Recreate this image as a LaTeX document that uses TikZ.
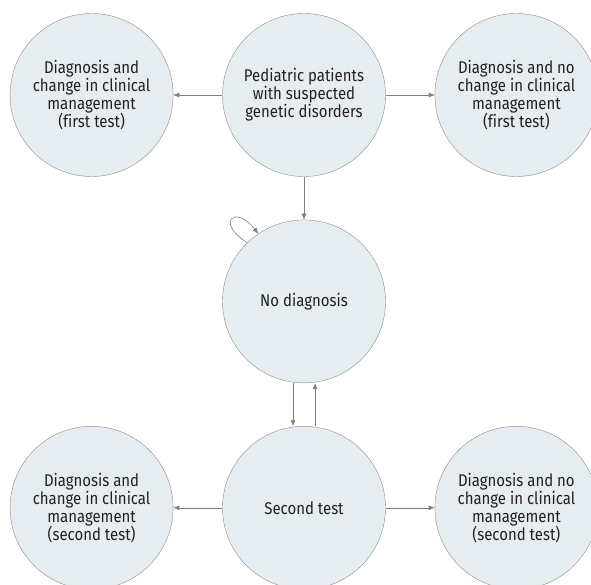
\documentclass[tikz,border=0pt]{standalone}
\usepackage{fontspec}
\setmainfont{Fira Sans}[FakeStretch=0.88, Ligatures=NoCommon]
\usetikzlibrary{positioning,arrows.meta}
\definecolor{stateFill}{HTML}{E6EDF1}
\definecolor{stateLine}{HTML}{8C8C8C}
\definecolor{arrGray}{HTML}{808080}
\definecolor{txtGray}{HTML}{231F20}

\begin{document}
\begin{tikzpicture}[
  x=1pt, y=-1pt,
  node distance=43pt and 49pt,
  state/.style={draw=stateLine, fill=stateFill, circle, minimum size=163pt,
                inner sep=0pt, align=center, text=txtGray,
                font=\fontsize{17}{18}\selectfont},
  arr/.style={-{Latex[length=6pt, width=5pt]}, arrGray, semithick}]
\useasboundingbox (0,0) rectangle (591,585);
% first test
\node[state] (pat) at (304,95) {Pediatric patients\\with suspected\\genetic disorders};
\node[state, left=of pat] (dxc1) {Diagnosis and\\change in clinical\\management\\(first test)};
\node[state, right=of pat] (dxn1) {Diagnosis and no\\change in clinical\\management\\(first test)};
\draw[arr] (pat) -- (dxc1);
\draw[arr] (pat) -- (dxn1);
% no diagnosis
\node[state, below=of pat] (nodx) {No diagnosis};
\draw[arr] (pat) -- (nodx);
\draw[arr] (nodx.134) .. controls +(-32,-20) and +(-24,-30) .. (nodx.124);
% second test
\node[state, below=of nodx] (sec) {Second test};
\draw[arr] ([xshift=-11pt]nodx.south) -- ([xshift=-11pt]sec.north);
\draw[arr] ([xshift=11pt]sec.north) -- ([xshift=11pt]nodx.south);
\node[state, left=of sec] (dxc2) {Diagnosis and\\change in clinical\\management\\(second test)};
\node[state, right=of sec] (dxn2) {Diagnosis and no\\change in clinical\\management\\(second test)};
\draw[arr] (sec) -- (dxc2);
\draw[arr] (sec) -- (dxn2);
\end{tikzpicture}
\end{document}
